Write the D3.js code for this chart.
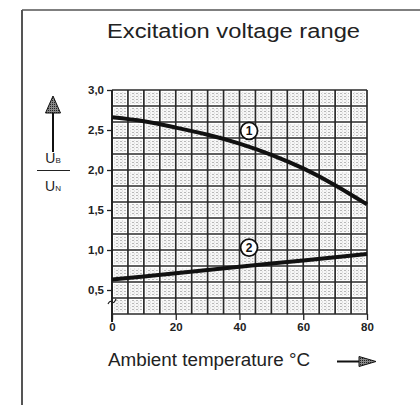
<!DOCTYPE html>
<html>
<head>
<meta charset="utf-8">
<title>Excitation voltage range</title>
<script src="https://cdn.jsdelivr.net/npm/d3@7"></script>
<style>
  body { margin: 0; background: #fff; }
  svg { display: block; font-family: "Liberation Sans", Arial, sans-serif; }
  .tick text { font-weight: bold; font-size: 11.5px; fill: #222; }
  .tick line { stroke: #222; stroke-width: 1.3; }
</style>
<script>
// values
var TEMPS1 = [0, 10, 20, 30, 40, 50, 60, 70, 80];
var CURVE1 = [2.66, 2.61, 2.53, 2.44, 2.33, 2.19, 2.02, 1.81, 1.57];
var TEMPS2 = [0, 20, 40, 60, 80];
var CURVE2 = [0.63, 0.71, 0.79, 0.87, 0.95];
var X_TICKS = [0, 20, 40, 60, 80];
var Y_TICKS = [0.5, 1.0, 1.5, 2.0, 2.5, 3.0];
var X_GRID = d3.range(0, 81, 5);
var Y_GRID = d3.range(0.2, 3.01, 0.2);
var MARKERS = [{ id: '1', t: 43, v: 2.49 }, { id: '2', t: 43, v: 1.03 }];
var TITLE = 'Excitation voltage range';
var X_TITLE = 'Ambient temperature °C';

window.onload = function () {
  var svg = d3.select('body').append('svg').attr('width', 420).attr('height', 405);
  var x = d3.scaleLinear().domain([0, 80]).range([112, 367]);
  var y = d3.scaleLinear().domain([0.2, 3.0]).range([314, 90]);

  var defs = svg.append('defs');
  // stipple texture of the cells
  var pat = defs.append('pattern').attr('id', 'stip').attr('patternUnits', 'userSpaceOnUse')
    .attr('width', 4).attr('height', 3);
  pat.append('rect').attr('width', 4).attr('height', 3).attr('fill', '#f6f6f6');
  pat.append('rect').attr('width', 2).attr('height', 1).attr('fill', '#b8b8b8');
  pat.append('rect').attr('x', 2).attr('y', 1.5).attr('width', 1).attr('height', 1).attr('fill', '#d0d0d0');
  var pat2 = defs.append('pattern').attr('id', 'head').attr('patternUnits', 'userSpaceOnUse')
    .attr('width', 2).attr('height', 2);
  pat2.append('rect').attr('width', 2).attr('height', 2).attr('fill', '#888');
  pat2.append('rect').attr('width', 1).attr('height', 1).attr('fill', '#222');

  // frame of the scan
  svg.append('line').attr('x1', 22).attr('x2', 420).attr('y1', 10).attr('y2', 10)
    .attr('stroke', '#555').attr('stroke-width', 1.5);
  svg.append('line').attr('x1', 22).attr('x2', 22).attr('y1', 10).attr('y2', 405)
    .attr('stroke', '#555').attr('stroke-width', 2);

  svg.append('text').attr('x', 107).attr('y', 38)
    .attr('font-size', 20).attr('fill', '#222')
    .attr('textLength', 253).attr('lengthAdjust', 'spacingAndGlyphs').text(TITLE);

  // cells
  var cells = [];
  for (var i = 0; i < X_GRID.length - 1; i++) {
    for (var j = 0; j < Y_GRID.length - 1; j++) {
      cells.push([X_GRID[i], X_GRID[i + 1], Y_GRID[j], Y_GRID[j + 1]]);
    }
  }
  svg.append('g').selectAll('rect').data(cells).join('rect')
    .attr('x', function (d) { return x(d[0]) + 2; })
    .attr('y', function (d) { return y(d[3]) + 2; })
    .attr('width', function (d) { return x(d[1]) - x(d[0]) - 4; })
    .attr('height', function (d) { return y(d[2]) - y(d[3]) - 4; })
    .attr('fill', 'url(#stip)');

  var grid = svg.append('g').attr('stroke', '#2a2a2a').attr('stroke-width', 1.7);
  grid.selectAll('.v').data(X_GRID).join('line')
    .attr('x1', x).attr('x2', x).attr('y1', y(3.0)).attr('y2', y(0.2));
  grid.selectAll('.h').data(Y_GRID).join('line')
    .attr('x1', x(0)).attr('x2', x(80)).attr('y1', y).attr('y2', y);
  // y axis line runs past the grid, with a break mark
  svg.append('line').attr('x1', x(0)).attr('x2', x(0)).attr('y1', y(3.0)).attr('y2', 322)
    .attr('stroke', '#222').attr('stroke-width', 2);
  svg.append('path').attr('d', 'M108,304 q2,-4 4,-2 t4,-3')
    .attr('fill', 'none').attr('stroke', '#222').attr('stroke-width', 1.2);

  var yAxis = d3.axisLeft(y).tickValues(Y_TICKS).tickSize(5).tickPadding(3)
    .tickFormat(function (d) { return d3.format('.1f')(d).replace('.', ','); });
  svg.append('g').attr('transform', 'translate(' + x(0) + ',0)').call(yAxis)
    .call(function (g) { g.select('.domain').remove(); });
  var xAxis = d3.axisBottom(x).tickValues(X_TICKS).tickSize(6).tickPadding(3);
  svg.append('g').attr('transform', 'translate(0,' + y(0.2) + ')').call(xAxis)
    .call(function (g) { g.select('.domain').remove(); });

  var line = d3.line().curve(d3.curveNatural)
    .x(function (d) { return x(d[0]); }).y(function (d) { return y(d[1]); });
  svg.append('path').datum(d3.zip(TEMPS1, CURVE1)).attr('d', line)
    .attr('fill', 'none').attr('stroke', '#111').attr('stroke-width', 4);
  svg.append('path').datum(d3.zip(TEMPS2, CURVE2)).attr('d', line)
    .attr('fill', 'none').attr('stroke', '#111').attr('stroke-width', 4);

  var mk = svg.append('g').selectAll('g').data(MARKERS).join('g')
    .attr('transform', function (d) { return 'translate(' + x(d.t) + ',' + y(d.v) + ')'; });
  mk.append('circle').attr('r', 8.5).attr('fill', '#fff').attr('stroke', '#111').attr('stroke-width', 1.8);
  mk.append('text').attr('text-anchor', 'middle').attr('dy', '0.36em')
    .attr('font-size', 12).attr('font-weight', 'bold').attr('fill', '#111').text(function (d) { return d.id; });

  // y quantity: arrow and UB / UN
  svg.append('line').attr('x1', 53).attr('x2', 53).attr('y1', 110).attr('y2', 152)
    .attr('stroke', '#111').attr('stroke-width', 2);
  svg.append('path').attr('d', 'M53,96 L60.5,113 L45.5,113 Z')
    .attr('fill', 'url(#head)').attr('stroke', '#111').attr('stroke-width', 1);
  var ub = svg.append('text').attr('x', 53).attr('y', 163).attr('text-anchor', 'middle')
    .attr('font-size', 14).attr('fill', '#222');
  ub.append('tspan').text('U');
  ub.append('tspan').attr('font-size', 8).text('B');
  svg.append('line').attr('x1', 37).attr('x2', 70).attr('y1', 170.5).attr('y2', 170.5)
    .attr('stroke', '#222').attr('stroke-width', 1.2);
  var un = svg.append('text').attr('x', 53).attr('y', 191).attr('text-anchor', 'middle')
    .attr('font-size', 14).attr('fill', '#222');
  un.append('tspan').text('U');
  un.append('tspan').attr('font-size', 8).text('N');

  // x quantity
  svg.append('text').attr('x', 108).attr('y', 366).attr('font-size', 17.5).attr('fill', '#222')
    .attr('textLength', 202).attr('lengthAdjust', 'spacingAndGlyphs').text(X_TITLE);
  svg.append('line').attr('x1', 337).attr('x2', 362).attr('y1', 361.5).attr('y2', 361.5)
    .attr('stroke', '#111').attr('stroke-width', 2);
  svg.append('path').attr('d', 'M376,361.5 L359,356.5 L359,366.5 Z')
    .attr('fill', 'url(#head)').attr('stroke', '#111').attr('stroke-width', 1);
};
</script>
</head>
<body>
</body>
</html>
